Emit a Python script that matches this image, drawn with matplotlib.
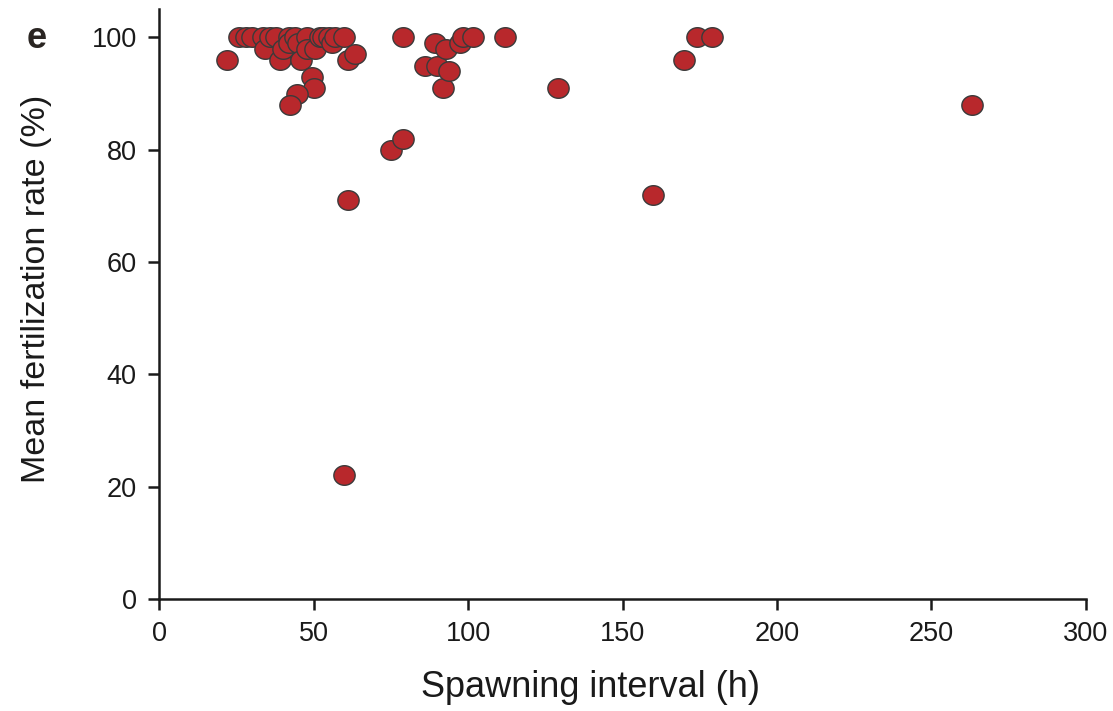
import matplotlib
matplotlib.use("Agg")
import matplotlib.pyplot as plt
import numpy as np
from matplotlib.path import Path

# spawning interval (h) and mean fertilization rate (%)
interval = [22, 26, 28, 30, 33.7, 34.3, 36, 38, 39, 40, 42, 42, 44, 45, 46, 48,
            48, 49.5, 50, 50.5, 52, 53, 55, 56, 57, 60, 61, 63.4, 44.6, 42.4,
            61, 60, 75, 79, 79, 86, 89.3, 90, 92, 93, 94, 97.4, 98.4, 101.6,
            112, 129, 160, 170, 174, 179, 263]
fert_rate = [96, 100, 100, 100, 100, 98, 100, 100, 96, 98, 100, 99, 100, 99, 96, 100,
             98, 93, 91, 98, 100, 100, 100, 99, 100, 100, 96, 97, 90, 88,
             71, 22, 80, 82, 100, 95, 99, 95, 91, 98, 94, 99, 100, 100,
             100, 91, 72, 96, 100, 100, 88]

x_ticks = [0, 50, 100, 150, 200, 250, 300]
y_ticks = [0, 20, 40, 60, 80, 100]

plt.rcParams['font.family'] = ['Liberation Sans', 'DejaVu Sans']

# oval marker, a bit wider than tall
t = np.linspace(0, 2 * np.pi, 60)
oval = Path(np.column_stack([1.0 * np.cos(t), 0.92 * np.sin(t)]), closed=True)

fig = plt.figure(figsize=(11.13, 7.11), dpi=100)
ax = fig.add_axes([0.1429, 0.1575, 0.8328, 0.8293])

ax.scatter(interval, fert_rate, marker=oval, s=235, c='#b8282c',
           edgecolors='#3a3a3a', linewidths=1.0, zorder=3, clip_on=False)

ax.set_xlim(0, 300)
ax.set_ylim(0, 105)
ax.set_xticks(x_ticks)
ax.set_yticks(y_ticks)
ax.spines['top'].set_visible(False)
ax.spines['right'].set_visible(False)
for s in ['left', 'bottom']:
    ax.spines[s].set_linewidth(1.8)
    ax.spines[s].set_color('#1a1a1a')
ax.tick_params(direction='out', length=8, width=1.8, labelsize=19.5,
               colors='#1a1a1a', pad=8)

ax.set_xlabel("Spawning interval (h)", fontsize=26, color='#1a1a1a')
ax.set_ylabel("Mean fertilization rate (%)", fontsize=24.5, color='#1a1a1a')
ax.xaxis.set_label_coords(0.465, -0.12)
ax.yaxis.set_label_coords(-0.116, 0.526)

fig.text(0.024, 0.946, "e", fontsize=26, fontweight='bold', color='#2a2522',
         va='center')

plt.savefig('out.png', dpi=100)
